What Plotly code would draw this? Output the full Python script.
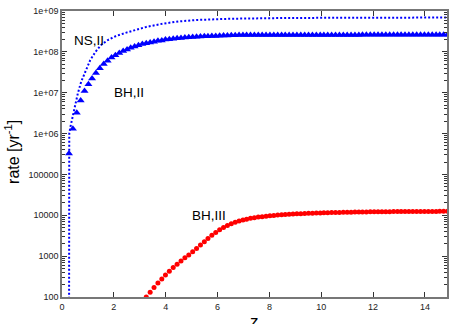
import plotly.graph_objects as go

# redshift grid of the plotted points
z_grid = [0.27, 0.42, 0.57, 0.72, 0.87, 1.02, 1.16, 1.31, 1.46, 1.61,
          1.76, 1.91, 2.06, 2.21, 2.36, 2.51, 2.65, 2.80, 2.95, 3.10,
          3.25, 3.40, 3.55, 3.70, 3.85, 3.99, 4.14, 4.29, 4.44, 4.59,
          4.74, 4.89, 5.04, 5.19, 5.34, 5.49, 5.63, 5.78, 5.93, 6.08,
          6.23, 6.38, 6.53, 6.68, 6.83, 6.98, 7.12, 7.27, 7.42, 7.57,
          7.72, 7.87, 8.02, 8.17, 8.32, 8.47, 8.61, 8.76, 8.91, 9.06,
          9.21, 9.36, 9.51, 9.66, 9.81, 9.96, 10.10, 10.25, 10.40, 10.55,
          10.70, 10.85, 11.00, 11.15, 11.30, 11.45, 11.59, 11.74, 11.89, 12.04,
          12.19, 12.34, 12.49, 12.64, 12.79, 12.94, 13.08, 13.23, 13.38, 13.53,
          13.68, 13.83, 13.98, 14.13, 14.28, 14.43, 14.57, 14.72, 14.87]

# BH,II rate (log10 yr^-1), one value per z_grid entry
bh2_log10 = [5.51, 6.12, 6.51, 6.81, 7.04, 7.21, 7.35, 7.48, 7.60, 7.70,
             7.78, 7.86, 7.92, 7.97, 8.02, 8.06, 8.10, 8.13, 8.16, 8.19,
             8.21, 8.23, 8.25, 8.27, 8.28, 8.30, 8.31, 8.32, 8.33, 8.34,
             8.35, 8.36, 8.365, 8.37, 8.375, 8.38, 8.385, 8.39, 8.39, 8.395,
             8.40, 8.40, 8.405, 8.405, 8.41, 8.41, 8.41, 8.41, 8.41, 8.41,
             8.41, 8.41, 8.41, 8.41, 8.41, 8.41, 8.41, 8.41, 8.41, 8.41,
             8.41, 8.415, 8.415, 8.415, 8.415, 8.415, 8.415, 8.415, 8.415, 8.415,
             8.415, 8.415, 8.415, 8.415, 8.415, 8.415, 8.42, 8.42, 8.42, 8.42,
             8.42, 8.42, 8.42, 8.42, 8.42, 8.42, 8.42, 8.42, 8.42, 8.42,
             8.42, 8.42, 8.42, 8.42, 8.42, 8.42, 8.42, 8.42, 8.42]

# BH,III rate (log10 yr^-1), starts at z_grid[20]
bh3_z = z_grid[20:]
bh3_log10 = [2.00, 2.115, 2.23, 2.34, 2.44, 2.54, 2.63, 2.72, 2.80, 2.88,
             2.96, 3.03, 3.11, 3.19, 3.27, 3.35, 3.43, 3.51, 3.58, 3.645,
             3.70, 3.75, 3.795, 3.83, 3.86, 3.885, 3.905, 3.925, 3.94, 3.955,
             3.967, 3.978, 3.988, 3.997, 4.005, 4.012, 4.018, 4.024, 4.03, 4.035,
             4.04, 4.044, 4.048, 4.052, 4.055, 4.058, 4.061, 4.064, 4.066, 4.068,
             4.07, 4.072, 4.074, 4.076, 4.078, 4.08, 4.082, 4.083, 4.084, 4.085,
             4.086, 4.087, 4.088, 4.089, 4.09, 4.09, 4.091, 4.091, 4.092, 4.092,
             4.093, 4.093, 4.094, 4.094, 4.095, 4.095, 4.096, 4.096, 4.097]

# NS,II rate curve (log10 yr^-1)
ns2_z = [0.27, 0.28, 0.33, 0.38, 0.48, 0.61, 0.74, 0.91, 1.09, 1.29, 1.51,
         1.77, 2.09, 2.48, 2.93, 3.25, 3.89, 4.50, 5.18, 6.47, 8.66, 10.5,
         12.5, 14.85]
ns2_log10 = [0.0, 6.00, 6.18, 6.33, 6.65, 6.98, 7.27, 7.55, 7.80, 8.00, 8.17,
             8.29, 8.39, 8.47, 8.55, 8.61, 8.69, 8.745, 8.78, 8.81, 8.83, 8.835,
             8.84, 8.84]

y_tickvals = [1e2, 1e3, 1e4, 1e5, 1e6, 1e7, 1e8, 1e9]
y_ticktext = ["100", "1000", "10000", "100000", "1e+06", "1e+07", "1e+08", "1e+09"]
y_minor = [m * 10 ** d for d in range(2, 9) for m in range(2, 10)]
x_tickvals = [0, 2, 4, 6, 8, 10, 12, 14]

labels = [("NS,II", 1.04, 8.29), ("BH,II", 2.6, 7.0), ("BH,III", 5.66, 4.0)]

FONT = "Liberation Sans, Arial, sans-serif"

fig = go.Figure()
fig.add_trace(go.Scatter(
    x=ns2_z, y=[10 ** v for v in ns2_log10], mode="lines",
    line=dict(color="#0000ff", width=2, dash="2px,2px"), showlegend=False))
fig.add_trace(go.Scatter(
    x=z_grid, y=[10 ** v for v in bh2_log10], mode="markers",
    marker=dict(symbol="triangle-up", size=7, color="#0000ff", line=dict(width=0)),
    showlegend=False))
fig.add_trace(go.Scatter(
    x=bh3_z, y=[10 ** v for v in bh3_log10], mode="markers",
    marker=dict(symbol="circle", size=5, color="#ff0000", line=dict(width=0)),
    showlegend=False))

for text, x, ly in labels:
    fig.add_annotation(x=x, y=ly, xref="x", yref="y", text=text, showarrow=False,
                       font=dict(family=FONT, size=13.5, color="#000"))

fig.add_annotation(x=-0.13, y=0.507, xref="paper", yref="paper",
                   xanchor="center", yanchor="middle",
                   text="rate [yr<sup>-1</sup>]", textangle=-90, showarrow=False,
                   font=dict(family=FONT, size=16, color="#000"))
fig.add_annotation(x=0.501, y=-0.045, xref="paper", yref="paper",
                   xanchor="center", yanchor="top",
                   text="z", showarrow=False,
                   font=dict(family=FONT, size=17, color="#000"))

axis_common = dict(showgrid=False, zeroline=False, showline=True, linecolor="#777",
                   linewidth=1.5, mirror="allticks", ticks="inside", tickcolor="#333",
                   tickwidth=1, automargin=False,
                   tickfont=dict(family=FONT, size=9, color="#222"))

fig.update_xaxes(range=[0, 14.85], tickvals=x_tickvals, ticklen=5, **axis_common)
fig.update_yaxes(type="log", range=[2, 9], tickvals=y_tickvals, ticktext=y_ticktext,
                 ticklen=5, minor=dict(tickvals=y_minor, ticks="inside", ticklen=3,
                                       tickcolor="#333", showgrid=False),
                 **axis_common)

fig.update_layout(width=463, height=324, margin=dict(l=62, r=16, t=11, b=27),
                  paper_bgcolor="white", plot_bgcolor="white",
                  font=dict(family=FONT))

fig.write_html("out.html", config={"displayModeBar": False},
               post_script="document.body.style.margin='0';document.body.style.overflow='hidden';")
